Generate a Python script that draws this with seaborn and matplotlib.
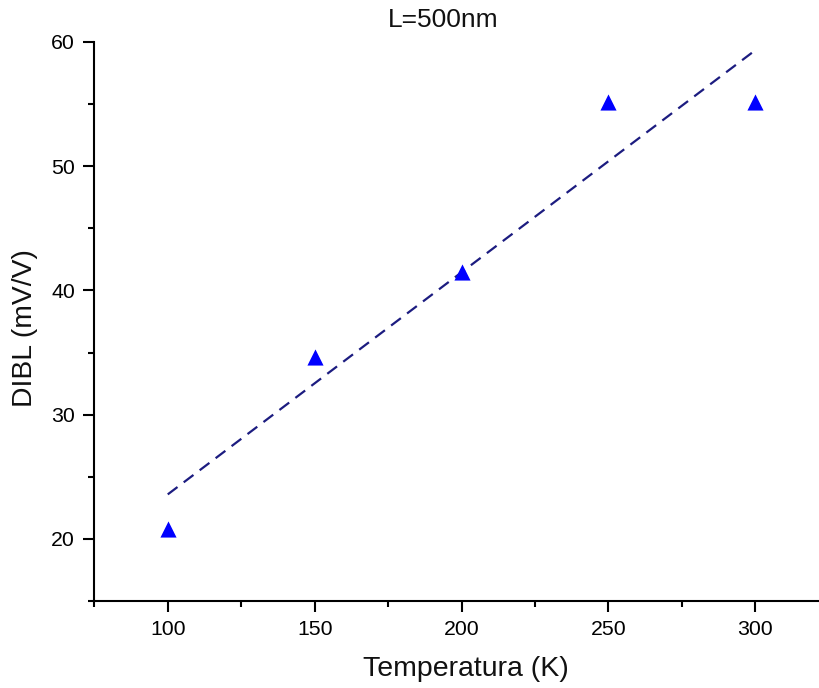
import matplotlib
matplotlib.use("Agg")
import matplotlib.pyplot as plt
import seaborn as sns
import pandas as pd
from matplotlib.ticker import MultipleLocator

temperatura = [100, 150, 200, 250, 300]
dibl = [20.8, 34.6, 41.5, 55.2, 55.2]
x_ticks = [100, 150, 200, 250, 300]
y_ticks = [20, 30, 40, 50, 60]

df = pd.DataFrame({"T": temperatura, "DIBL": dibl})

sns.set_theme(style="ticks")
plt.rcParams['font.family'] = ['Liberation Sans', 'DejaVu Sans']
plt.rcParams['text.color'] = 'black'
plt.rcParams['xtick.color'] = 'black'
plt.rcParams['ytick.color'] = 'black'
plt.rcParams['xtick.labelcolor'] = 'black'
plt.rcParams['ytick.labelcolor'] = 'black'

fig = plt.figure(figsize=(8.2, 6.88), dpi=100)
ax = fig.add_axes([0.115, 0.1265, 0.885, 0.8125])

sns.regplot(data=df, x="T", y="DIBL", ax=ax, scatter=False, ci=None,
            line_kws=dict(color="#1c1c80", lw=1.6, dashes=(5.5, 3.5)))
sns.scatterplot(data=df, x="T", y="DIBL", ax=ax, marker="^", s=135,
                color="#0000ff", edgecolor="#0000ff", linewidth=0, zorder=3)

ax.set_xlim(75, 322)
ax.set_ylim(15, 60)
ax.set_xticks(x_ticks)
ax.set_yticks(y_ticks)
ax.xaxis.set_minor_locator(MultipleLocator(25))
ax.yaxis.set_minor_locator(MultipleLocator(5))
ax.tick_params(which="major", length=8, width=1.5, labelsize=15.3, pad=6, color="black", labelcolor="black")
ax.tick_params(which="minor", length=4, width=1.5, color="black")

for s in ["top", "right"]:
    ax.spines[s].set_visible(False)
for s in ["left", "bottom"]:
    ax.spines[s].set_linewidth(1.5)
    ax.spines[s].set_color("black")

ax.set_xlabel("")
ax.set_ylabel("")
fig.text(466/820, 1 - 669/688, "Temperatura (K)", ha="center", va="center", fontsize=20.5, color="#111111")
fig.text(25/820, 1 - 328/688, "DIBL (mV/V)", ha="center", va="center", fontsize=20.3, rotation=90, color="#111111")
fig.text(443/820, 1 - 20/688, "L=500nm", ha="center", va="center", fontsize=19, color="#111111")

fig.savefig("out.png", dpi=100)
